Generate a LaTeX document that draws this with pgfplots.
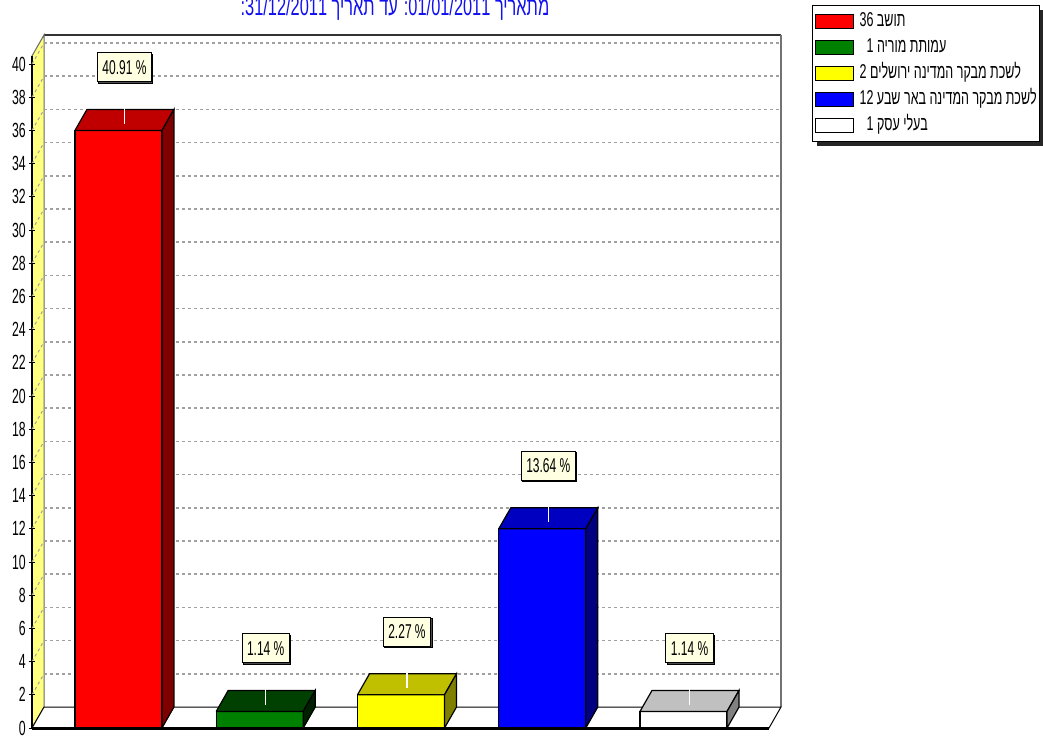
\documentclass[border=0pt]{standalone}
\usepackage{fontspec}
\setmainfont{Liberation Sans}[FakeStretch=0.6]
\newfontfamily\hebfont{Liberation Sans}[Script=Hebrew,FakeStretch=0.625]
\newfontfamily\hebtitle{Liberation Sans}[Script=Hebrew,FakeStretch=0.63]
\usepackage{pgfplots}
\usepackage{pgfplotstable}
\pgfplotsset{compat=1.18}
\usetikzlibrary{shadows}
\TeXXeTstate=1
\makeatletter
\tikzset{no preaction/.code={\let\tikz@preactions=\pgfutil@empty}}
\makeatother

\definecolor{redF}{HTML}{FF0000}\definecolor{redT}{HTML}{C00000}\definecolor{redS}{HTML}{800000}
\definecolor{grnF}{HTML}{008000}\definecolor{grnT}{HTML}{004000}\definecolor{grnS}{HTML}{002000}
\definecolor{yelF}{HTML}{FFFF00}\definecolor{yelT}{HTML}{C0C000}\definecolor{yelS}{HTML}{808000}
\definecolor{bluF}{HTML}{0000FF}\definecolor{bluT}{HTML}{0000C0}\definecolor{bluS}{HTML}{000080}
\definecolor{whtF}{HTML}{FFFFFF}\definecolor{whtT}{HTML}{C0C0C0}\definecolor{whtS}{HTML}{808080}
\definecolor{wall}{HTML}{FFFF80}
\definecolor{tip}{HTML}{FFFFE1}
\definecolor{gridc}{HTML}{A0A0A0}
\definecolor{ttl}{HTML}{1010F0}

\pgfplotstableread{
x v pct
0 36 40.91
1 1 1.14
2 2 2.27
3 12 13.64
4 1 1.14
}\bars

% 3D bar: #1 x, #2 value, #3 front, #4 top, #5 side colour
\newcommand{\tdbar}[5]{%
  \pgfmathsetmacro{\xl}{#1-0.308}%
  \pgfmathsetmacro{\xr}{#1+0.308}%
  \pgfmathsetmacro{\xlb}{#1-0.308+0.085}%
  \pgfmathsetmacro{\xrb}{#1+0.308+0.085}%
  \pgfmathsetmacro{\vb}{#2+1.265}%
  \pgfmathsetmacro{\xc}{#1+0.0425}%
  \pgfmathsetmacro{\vl}{#2+1.265+0.15}%
  \pgfmathsetmacro{\vm}{#2+1.265-0.85}%
  \edef\tmp{%
    \noexpand\addplot[forget plot, fill=#3, draw=black, line width=1.2pt] coordinates {(\xl,0) (\xr,0) (\xr,#2) (\xl,#2) (\xl,0)};
    \noexpand\addplot[forget plot, fill=#4, draw=black, line width=1.2pt] coordinates {(\xl,#2) (\xlb,\vb) (\xrb,\vb) (\xr,#2) (\xl,#2)};
    \noexpand\addplot[forget plot, fill=#5, draw=black, line width=1.2pt] coordinates {(\xr,0) (\xrb,1.265) (\xrb,\vb) (\xr,#2) (\xr,0)};
    \noexpand\addplot[forget plot, white, line width=1.2pt] coordinates {(\xc,\vl) (\xc,\vm)};
  }\tmp}

\begin{document}
\begin{tikzpicture}
\begin{axis}[
  at={(32pt,8pt)}, anchor=south west,
  scale only axis, width=749pt, height=693pt,
  xmin=-0.612, xmax=4.69, ymin=0, ymax=41.75,
  clip=false, axis on top,
  axis x line=none,
  axis y line*=left,
  y axis line style={draw=none},
  ytick={0,2,...,40},
  tick align=center, major tick length=6pt,
  ytick style={black, line width=1pt},
  yticklabel style={font=\fontsize{20.5}{22}\selectfont, inner sep=0pt, anchor=east, xshift=-3pt},
  /pgf/number format/assume math mode=true,
  every axis title/.style={at={(0.4846,1.0274)}, anchor=base, inner sep=0pt,
     font=\hebtitle\fontsize{26}{28}\selectfont, text=ttl},
  title={\beginR מתאריך \beginL 01/01/2011:\endL{} עד תאריך \beginL 31/12/2011:\endL\endR},
  legend style={at={(1.0414,1.0433)}, anchor=north west, draw=black, line width=1.2pt,
     fill=white, inner xsep=2pt, inner ysep=6pt, row sep=6pt,
     font=\hebfont\fontsize{20}{22}\selectfont,
     nodes={inner sep=1pt, text height=14pt, text depth=4pt},
     /tikz/every odd column/.append style={column sep=5pt},
     drop shadow={shadow xshift=4pt, shadow yshift=-4pt, fill=black!85, opacity=1}},
  legend cell align=left,
  legend image code/.code={\draw[no preaction, #1, draw=black, line width=1pt] (0pt,-7pt) rectangle (38pt,7pt);},
]
% legend
\addlegendimage{fill=redF}
\addlegendentry{\beginR תושב \beginL36\endL\endR}
\addlegendimage{fill=grnF}
\addlegendentry{\beginR עמותת מוריה \beginL1\endL\kern7pt\endR}
\addlegendimage{fill=yelF}
\addlegendentry{\beginR לשכת מבקר המדינה ירושלים \beginL2\endL\endR}
\addlegendimage{fill=bluF}
\addlegendentry{\beginR לשכת מבקר המדינה באר שבע \beginL12\endL\endR}
\addlegendimage{fill=whtF}
\addlegendentry{\beginR בעלי עסק \beginL1\endL\kern7pt\endR}

% back wall
\addplot[forget plot, fill=white, draw=none] coordinates {(-0.527,1.265) (4.69,1.265) (4.69,41.75) (-0.527,41.75) (-0.527,1.265)};
\addplot[forget plot, black!80, line width=2pt] coordinates {(-0.527,41.75) (4.69,41.75)};
\addplot[forget plot, black!55, line width=2pt] coordinates {(4.69,41.75) (4.69,1.265)};
% left (yellow) wall
\addplot[forget plot, fill=wall, draw=black!60, line width=1pt] coordinates {(-0.612,0) (-0.527,1.265) (-0.527,41.75) (-0.612,40.485) (-0.612,0)};
\addplot[forget plot, black, line width=2pt] coordinates {(-0.612,0) (-0.612,40.485)};
% floor
\addplot[forget plot, fill=white, draw=black, line width=1pt] coordinates {(-0.612,0) (4.605,0) (4.69,1.265) (-0.527,1.265) (-0.612,0)};
\addplot[forget plot, black, line width=3pt] coordinates {(-0.612,0) (4.605,0)};
% grid lines on back wall and left wall
\foreach \k in {2,4,...,40}{%
  \pgfmathsetmacro{\kb}{\k+1.265}%
  \edef\tmp{%
    \noexpand\addplot[forget plot, gridc, line width=1.5pt, dash pattern=on 3pt off 3pt] coordinates {(-0.527,\kb) (4.69,\kb)};
    \noexpand\addplot[forget plot, gridc, line width=1pt, dash pattern=on 3pt off 3pt] coordinates {(-0.612,\k) (-0.527,\kb)};
  }\tmp}
% bars
\tdbar{0}{36}{redF}{redT}{redS}
\tdbar{1}{1}{grnF}{grnT}{grnS}
\tdbar{2}{2}{yelF}{yelT}{yelS}
\tdbar{3}{12}{bluF}{bluT}{bluS}
\tdbar{4}{1}{whtF}{whtT}{whtS}
% value labels
\addplot[forget plot, only marks, mark=none, point meta=explicit symbolic,
  nodes near coords={\pgfplotspointmeta\ \%},
  nodes near coords style={anchor=center, fill=tip, draw=black, line width=1pt, text=black,
    inner xsep=5pt, minimum height=29pt, font=\fontsize{20}{22}\selectfont,
    drop shadow={shadow xshift=1.5pt, shadow yshift=-1.5pt, fill=black!70, opacity=1}}]
  table[x expr=\thisrow{x}+0.0425, y expr=\thisrow{v}+3.8, meta=pct] {\bars};
\end{axis}
\pgfresetboundingbox
\useasboundingbox (0,0) rectangle (1043pt,736pt);
\end{tikzpicture}
\end{document}
